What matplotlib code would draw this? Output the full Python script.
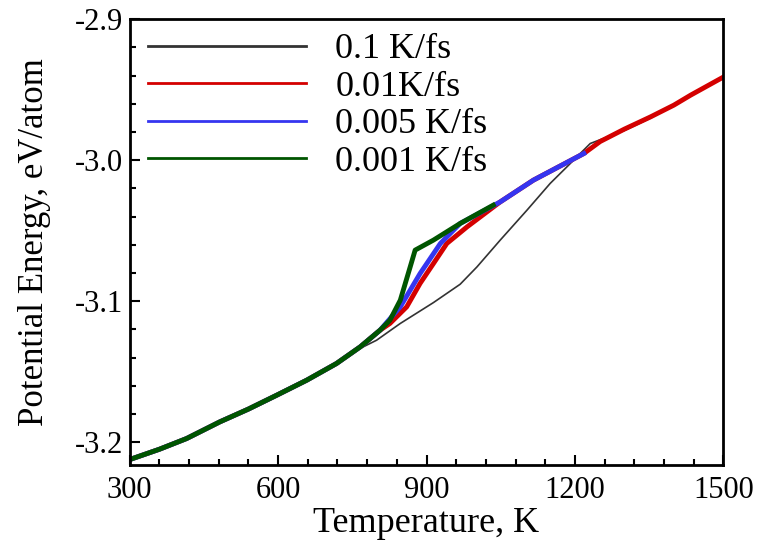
import matplotlib
matplotlib.use('Agg')
import matplotlib.pyplot as plt
from matplotlib.ticker import MultipleLocator

plt.rcParams['font.family'] = ['Liberation Serif', 'DejaVu Serif']
plt.rcParams['mathtext.fontset'] = 'stix'

# values
temp_01 = [300, 360, 415, 482, 540, 597, 658, 718, 760, 799, 847, 914, 968,
           1002, 1049, 1103, 1150, 1184, 1231, 1300, 1353, 1434, 1500]
pe_01 = [-3.2123, -3.2050, -3.1974, -3.1856, -3.1765, -3.1667, -3.1560, -3.1450,
         -3.1345, -3.1277, -3.1158, -3.1010, -3.0880, -3.0757, -3.0567, -3.0355,
         -3.0165, -3.0047, -2.9882, -2.9790, -2.9702, -2.9545, -2.9415]

temp_001 = [300, 360, 415, 482, 540, 597, 658, 718, 766, 806, 826, 860, 887, 914,
            941, 982, 1049, 1116, 1218, 1251, 1300, 1353, 1400, 1434, 1500]
pe_001 = [-3.2123, -3.2050, -3.1974, -3.1856, -3.1765, -3.1667, -3.1560, -3.1442,
          -3.1324, -3.1206, -3.1158, -3.1040, -3.0874, -3.0733, -3.0591, -3.0473,
          -3.0296, -3.0142, -2.9953, -2.9868, -2.9780, -2.9693, -2.9610, -2.9539,
          -2.9411]

temp_0005 = [300, 360, 415, 482, 540, 597, 658, 718, 766, 806, 847, 887, 928,
             968, 1049, 1116, 1218]
pe_0005 = [-3.2123, -3.2050, -3.1974, -3.1856, -3.1765, -3.1667, -3.1560, -3.1442,
           -3.1324, -3.1206, -3.1040, -3.0804, -3.0591, -3.0449, -3.0296, -3.0142,
           -2.9953]

temp_0001 = [300, 360, 415, 482, 540, 597, 658, 718, 766, 806, 826, 847, 867,
             877, 914, 968, 1035]
pe_0001 = [-3.2123, -3.2050, -3.1974, -3.1856, -3.1765, -3.1667, -3.1560, -3.1442,
           -3.1324, -3.1206, -3.1135, -3.0993, -3.0757, -3.0638, -3.0567, -3.0449,
           -3.0319]

fig, ax = plt.subplots(figsize=(7.63, 5.46), dpi=100)
fig.subplots_adjust(left=0.170, right=0.948, top=0.965, bottom=0.148)

ax.plot(temp_01, pe_01, color='#333333', lw=1.2, label='0.1 K/fs')
ax.plot(temp_001, pe_001, color='#d40000', lw=3.5, label='0.01K/fs')
ax.plot(temp_0005, pe_0005, color='#3535f0', lw=3.5, label='0.005 K/fs')
ax.plot(temp_0001, pe_0001, color='#005500', lw=3.5, label='0.001 K/fs')

ax.set_xlim(300, 1500)
ax.set_ylim(-3.2163, -2.9)
ax.xaxis.set_major_locator(MultipleLocator(300))
ax.xaxis.set_minor_locator(MultipleLocator(60))
ax.yaxis.set_major_locator(MultipleLocator(0.1))
ax.yaxis.set_minor_locator(MultipleLocator(0.02))
ax.yaxis.set_major_formatter(plt.FormatStrFormatter('%.1f'))
ax.tick_params(which='both', direction='in', labelsize=22, width=1.5)
ax.tick_params(which='major', length=7)
ax.tick_params(axis='x', which='major', pad=8)
ax.tick_params(axis='y', which='major', pad=5)
ax.tick_params(which='minor', length=4)
for sp in ax.spines.values():
    sp.set_linewidth(2)

ax.set_xlabel('Temperature, K', fontsize=26, labelpad=1)
ax.set_ylabel('Potential Energy, eV/atom', fontsize=25, labelpad=17)

leg = ax.legend(loc='upper left', bbox_to_anchor=(0.03, 0.969), frameon=False,
                fontsize=26, handlelength=4.4, handletextpad=0.8,
                labelspacing=0.12, borderpad=0, borderaxespad=0)
for h in leg.get_lines():
    h.set_linewidth(2)

fig.savefig('out.png', dpi=100)
